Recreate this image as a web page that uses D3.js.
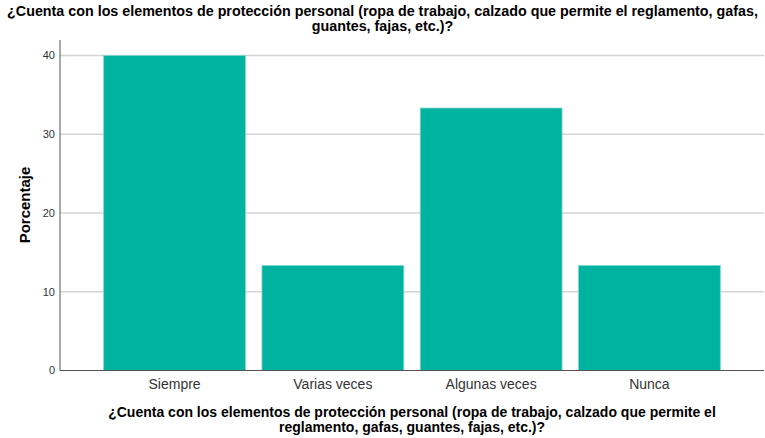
<!DOCTYPE html>
<html>
<head>
<meta charset="utf-8">
<script src="https://cdn.jsdelivr.net/npm/d3@7"></script>
<style>
  body { margin: 0; background: #fff; }
  text { font-family: "Liberation Sans", Arial, sans-serif; }
</style>
</head>
<body>
<svg id="chart" width="765" height="438"></svg>
<script>
// data
const categories = ['Siempre', 'Varias veces', 'Algunas veces', 'Nunca'];
const percentages = [40, 13.33, 33.33, 13.33];
const yTicks = [0, 10, 20, 30, 40];
const titleLines = [
  '¿Cuenta con los elementos de protección personal (ropa de trabajo, calzado que permite el reglamento, gafas,',
  'guantes, fajas, etc.)?'
];
const xTitleLines = [
  '¿Cuenta con los elementos de protección personal (ropa de trabajo, calzado que permite el',
  'reglamento, gafas, guantes, fajas, etc.)?'
];

const svg = d3.select('#chart');
const plotLeft = 60, plotRight = 764, plotTop = 40, plotBottom = 370.5;

const x = d3.scaleBand()
  .domain(categories)
  .range([plotLeft, plotRight])
  .paddingInner(0.104)
  .paddingOuter(0.276);

const y = d3.scaleLinear()
  .domain([0, 40])
  .range([plotBottom, 55.5]);

// grid lines
svg.append('g')
  .selectAll('line')
  .data(yTicks.filter(d => d > 0))
  .enter()
  .append('line')
  .attr('x1', plotLeft).attr('x2', plotRight)
  .attr('y1', d => y(d)).attr('y2', d => y(d))
  .attr('stroke', '#d4d4d4')
  .attr('stroke-width', 1.3);

// bars
svg.append('g')
  .selectAll('rect')
  .data(percentages)
  .enter()
  .append('rect')
  .attr('x', (d, i) => x(categories[i]))
  .attr('y', d => y(d))
  .attr('width', x.bandwidth())
  .attr('height', d => plotBottom - y(d))
  .attr('fill', '#00b3a0')
  .attr('stroke', '#7fd6cc')
  .attr('stroke-width', 0.8);

// axes lines
svg.append('line')
  .attr('x1', plotLeft).attr('x2', plotLeft)
  .attr('y1', plotTop).attr('y2', plotBottom)
  .attr('stroke', '#555').attr('stroke-width', 1);
svg.append('line')
  .attr('x1', plotLeft).attr('x2', plotRight)
  .attr('y1', plotBottom).attr('y2', plotBottom)
  .attr('stroke', '#555').attr('stroke-width', 1);

// y tick labels
svg.append('g')
  .selectAll('text')
  .data(yTicks)
  .enter()
  .append('text')
  .attr('x', plotLeft - 5)
  .attr('y', d => y(d))
  .attr('dy', '0.35em')
  .attr('text-anchor', 'end')
  .style('font-size', '11px')
  .style('fill', '#333')
  .text(d => d);

// x category labels
svg.append('g')
  .selectAll('text')
  .data(categories)
  .enter()
  .append('text')
  .attr('x', d => x(d) + x.bandwidth() / 2)
  .attr('y', 389)
  .attr('text-anchor', 'middle')
  .style('font-size', '14px')
  .style('fill', '#333')
  .text(d => d);

// y axis title
svg.append('text')
  .attr('transform', 'translate(30,205) rotate(-90)')
  .attr('text-anchor', 'middle')
  .style('font-size', '15px')
  .style('font-weight', 'bold')
  .style('fill', '#000')
  .text('Porcentaje');

// chart title
svg.append('g')
  .selectAll('text')
  .data(titleLines)
  .enter()
  .append('text')
  .attr('x', 382.5)
  .attr('y', (d, i) => 16 + i * 15)
  .attr('text-anchor', 'middle')
  .style('font-size', '14.3px')
  .style('font-weight', 'bold')
  .text(d => d);

// x axis title
svg.append('g')
  .selectAll('text')
  .data(xTitleLines)
  .enter()
  .append('text')
  .attr('x', 412)
  .attr('y', (d, i) => 417 + i * 15)
  .attr('text-anchor', 'middle')
  .style('font-size', '14px')
  .style('font-weight', 'bold')
  .text(d => d);
</script>
</body>
</html>
